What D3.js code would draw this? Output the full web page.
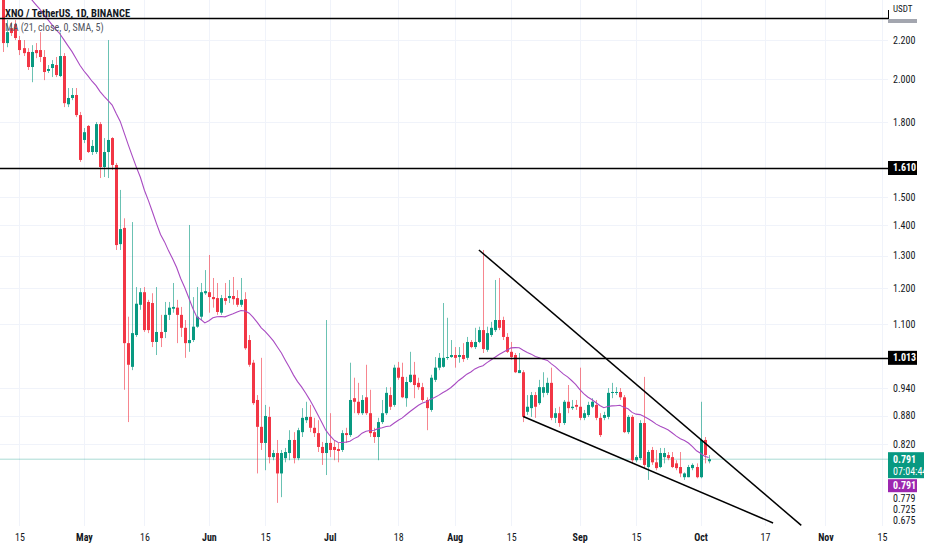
<!DOCTYPE html>
<html>
<head>
    <meta charset="utf-8">
    <title>XNO / TetherUS, 1D, BINANCE</title>
    <script src="https://cdn.jsdelivr.net/npm/d3@7/dist/d3.min.js" charset="utf-8"></script>
    <style>
        body { margin: 0; background: #fff; }
        text { font-family: "Liberation Sans Narrow", "Roboto Condensed", "Liberation Sans", sans-serif; }
    </style>
</head>
<body>
<script>
    // daily candles, first one on 11 Apr 2022
    var firstDay = '2022-04-11';
    var opens = [
        2.456, 2.184, 2.265, 2.287, 2.200, 2.157, 2.137, 2.060, 2.147, 2.147,
        2.111, 2.040, 2.055, 2.070, 2.015, 2.116, 1.881, 1.910, 1.924, 1.832,
        1.724, 1.784, 1.674, 1.674, 1.792, 1.614, 1.674, 1.732, 1.622, 1.337,
        1.391, 1.050, 0.991, 1.071, 1.153, 1.189, 1.161, 1.158, 1.053, 1.079,
        1.079, 1.125, 1.142, 1.145, 1.125, 1.090, 1.050, 1.058, 1.093, 1.120,
        1.186, 1.189, 1.175, 1.172, 1.131, 1.172, 1.172, 1.178, 1.172, 1.153,
        1.169, 1.058, 1.001, 0.914, 0.856, 0.823, 0.877, 0.795, 0.803, 0.764,
        0.793, 0.803, 0.829, 0.793, 0.845, 0.870, 0.877, 0.854, 0.843, 0.815,
        0.803, 0.823, 0.815, 0.811, 0.809, 0.843, 0.839, 0.918, 0.910, 0.885,
        0.920, 0.885, 0.845, 0.835, 0.866, 0.885, 0.925, 0.903, 0.989, 0.967,
        0.918, 0.955, 0.972, 0.953, 0.943, 0.914, 0.892, 0.960, 0.989, 0.991,
        1.013, 1.015, 1.020, 1.015, 1.020, 1.013, 1.053, 1.040, 1.053, 1.084,
        1.033, 1.071, 1.084, 1.111, 1.111, 1.066, 1.028, 1.020, 0.976, 0.978,
        0.888, 0.896, 0.925, 0.907, 0.930, 0.930, 0.953, 0.875, 0.885, 0.864,
        0.910, 0.896, 0.903, 0.899, 0.875, 0.881, 0.899, 0.903, 0.875, 0.875,
        0.877, 0.930, 0.930, 0.932, 0.920, 0.845, 0.877, 0.789, 0.793, 0.864,
        0.776, 0.809, 0.785, 0.776, 0.795, 0.799, 0.795, 0.783, 0.776, 0.757,
        0.757, 0.774, 0.776, 0.757, 0.829, 0.787
    ];
    var highs = [
        2.486, 2.310, 2.299, 2.310, 2.222, 2.200, 2.157, 2.173, 2.184, 2.243,
        2.147, 2.070, 2.095, 2.111, 2.238, 2.131, 1.957, 1.957, 1.957, 1.846,
        1.775, 1.788, 1.724, 1.801, 1.801, 1.732, 2.200, 1.736, 1.630, 1.526,
        1.424, 1.120, 1.411, 1.204, 1.201, 1.204, 1.167, 1.186, 1.204, 1.125,
        1.161, 1.161, 1.216, 1.167, 1.147, 1.111, 1.401, 1.175, 1.204, 1.216,
        1.255, 1.302, 1.231, 1.216, 1.181, 1.216, 1.225, 1.234, 1.195, 1.231,
        1.189, 1.071, 1.008, 0.925, 1.013, 0.903, 0.899, 0.809, 0.829, 0.809,
        0.813, 0.849, 0.845, 0.854, 0.896, 0.910, 0.903, 0.875, 0.870, 0.825,
        1.111, 0.885, 0.829, 0.823, 0.849, 0.854, 1.001, 0.965, 0.953, 0.925,
        0.996, 0.937, 0.854, 0.875, 0.914, 0.943, 0.943, 0.996, 1.003, 1.001,
        0.967, 1.028, 1.003, 0.965, 0.953, 0.920, 0.972, 1.015, 1.025, 1.158,
        1.117, 1.058, 1.040, 1.040, 1.050, 1.066, 1.058, 1.090, 1.093, 1.318,
        1.093, 1.106, 1.225, 1.231, 1.120, 1.076, 1.053, 1.025, 1.025, 0.983,
        0.925, 0.932, 0.932, 0.960, 0.978, 0.965, 0.989, 0.896, 0.899, 0.914,
        0.948, 0.914, 0.914, 0.989, 0.892, 0.910, 0.918, 0.914, 0.885, 0.888,
        0.941, 0.953, 0.943, 0.941, 0.925, 0.881, 0.881, 0.799, 0.870, 0.967,
        0.809, 0.815, 0.809, 0.813, 0.813, 0.805, 0.805, 0.789, 0.805, 0.766,
        0.780, 0.783, 0.783, 0.910, 0.835, 0.799
    ];
    var lows = [
        2.137, 2.162, 2.222, 2.200, 2.121, 2.116, 2.045, 1.985, 2.105, 2.085,
        1.995, 2.030, 2.010, 2.010, 2.010, 1.868, 1.868, 1.900, 1.823, 1.634,
        1.711, 1.670, 1.662, 1.666, 1.571, 1.575, 1.571, 1.602, 1.318, 1.318,
        0.937, 0.866, 0.983, 1.066, 1.139, 1.079, 1.076, 1.040, 1.020, 1.040,
        1.063, 1.111, 1.131, 1.050, 1.066, 1.013, 1.028, 1.053, 1.090, 1.111,
        1.181, 1.131, 1.145, 1.125, 1.125, 1.153, 1.158, 1.153, 1.147, 1.147,
        1.033, 0.991, 0.903, 0.764, 0.809, 0.770, 0.783, 0.789, 0.711, 0.721,
        0.785, 0.789, 0.783, 0.789, 0.835, 0.864, 0.845, 0.835, 0.805, 0.780,
        0.761, 0.795, 0.789, 0.785, 0.805, 0.823, 0.835, 0.885, 0.881, 0.881,
        0.881, 0.835, 0.823, 0.789, 0.862, 0.881, 0.892, 0.899, 0.960, 0.918,
        0.899, 0.953, 0.918, 0.937, 0.910, 0.849, 0.888, 0.955, 0.983, 0.989,
        1.008, 1.013, 0.989, 1.001, 1.003, 1.008, 1.037, 1.035, 1.050, 1.025,
        1.028, 1.066, 1.079, 1.084, 1.058, 1.025, 1.008, 0.976, 0.976, 0.866,
        0.881, 0.877, 0.875, 0.903, 0.920, 0.925, 0.870, 0.864, 0.856, 0.860,
        0.885, 0.892, 0.892, 0.870, 0.870, 0.877, 0.896, 0.870, 0.835, 0.870,
        0.872, 0.918, 0.925, 0.914, 0.843, 0.841, 0.783, 0.785, 0.789, 0.774,
        0.752, 0.780, 0.770, 0.774, 0.783, 0.789, 0.774, 0.770, 0.757, 0.752,
        0.757, 0.770, 0.755, 0.755, 0.783, 0.783
    ];
    var closes = [
        2.184, 2.243, 2.238, 2.211, 2.147, 2.131, 2.060, 2.137, 2.131, 2.111,
        2.035, 2.050, 2.075, 2.020, 2.116, 1.886, 1.910, 1.924, 1.832, 1.642,
        1.757, 1.674, 1.699, 1.792, 1.614, 1.674, 1.724, 1.622, 1.334, 1.387,
        1.050, 0.996, 1.076, 1.156, 1.189, 1.084, 1.084, 1.053, 1.079, 1.063,
        1.125, 1.145, 1.147, 1.125, 1.090, 1.050, 1.058, 1.093, 1.120, 1.189,
        1.192, 1.175, 1.169, 1.133, 1.172, 1.164, 1.178, 1.169, 1.153, 1.167,
        1.037, 0.996, 0.907, 0.856, 0.823, 0.879, 0.795, 0.803, 0.764, 0.803,
        0.805, 0.829, 0.793, 0.849, 0.875, 0.877, 0.854, 0.843, 0.815, 0.803,
        0.823, 0.809, 0.809, 0.807, 0.843, 0.839, 0.914, 0.910, 0.885, 0.914,
        0.885, 0.843, 0.835, 0.866, 0.885, 0.930, 0.899, 0.989, 0.965, 0.920,
        0.955, 0.972, 0.948, 0.943, 0.914, 0.896, 0.965, 0.989, 1.013, 1.013,
        1.015, 1.020, 1.013, 1.020, 1.010, 1.053, 1.040, 1.053, 1.084, 1.035,
        1.076, 1.090, 1.111, 1.090, 1.066, 1.028, 1.015, 0.978, 0.983, 0.877,
        0.899, 0.925, 0.899, 0.943, 0.943, 0.953, 0.875, 0.885, 0.864, 0.910,
        0.896, 0.899, 0.899, 0.875, 0.885, 0.903, 0.910, 0.875, 0.839, 0.881,
        0.930, 0.932, 0.932, 0.920, 0.845, 0.877, 0.789, 0.795, 0.864, 0.780,
        0.805, 0.785, 0.774, 0.803, 0.803, 0.793, 0.776, 0.774, 0.764, 0.764,
        0.776, 0.780, 0.757, 0.829, 0.799, 0.791
    ];
    // closes of the 20 days before the window, only used to start the MA (estimated from the MA line)
    var earlierCloses = [
        2.78, 2.74, 2.80, 2.72, 2.69, 2.71, 2.66, 2.72, 2.68, 2.70,
        2.64, 2.66, 2.60, 2.62, 2.56, 2.58, 2.56, 2.57, 2.40, 2.36
    ];
    var maLength = 21;

    // 1.6 and 1.0 sit under the level tags, so they are left out
    var priceTicks = [2.2, 2.0, 1.8, 1.5, 1.4, 1.3, 1.2, 1.1, 0.94, 0.88, 0.82];
    var dateTicks = ['2022-04-15', '2022-05-01', '2022-05-16', '2022-06-01', '2022-06-15', '2022-07-01',
        '2022-07-18', '2022-08-01', '2022-08-15', '2022-09-01', '2022-09-15', '2022-10-01',
        '2022-10-17', '2022-11-01', '2022-11-15'];

    // horizontal levels drawn on the chart
    var levelPrices = [2.32, 1.610, 1.013];
    var levelStarts = [null, null, '2022-08-07'];
    var levelTagged = [false, true, true];
    // falling wedge
    var wedgeUpper = [['2022-08-07', 1.318], ['2022-10-26', 0.673]];
    var wedgeLower = [['2022-08-18', 0.878], ['2022-10-19', 0.677]];

    var lastPrice = 0.791, lastMa = 0.791, countdown = '07:04:44';
    var drawingTags = [0.779, 0.725, 0.675];

    var width = 932, height = 550;
    var plot = {left: 0, top: 0, right: 888, bottom: 526};
    var pxPerDay = 4.03;
    var green = '#089981', red = '#f23645', maColor = '#a94bc2', ink = '#131722';

    var dayMs = 864e5;
    var parse = d3.utcParse('%Y-%m-%d');
    var xLeft = Date.UTC(2022, 3, 10, 4);
    var x = d3.scaleUtc()
            .domain([new Date(xLeft), new Date(xLeft + (plot.right - plot.left) / pxPerDay * dayMs)])
            .range([plot.left, plot.right]);
    var y = d3.scaleLog().domain([0.672, 2.426]).range([plot.bottom, plot.top]);

    var t0 = parse(firstDay).getTime();
    var candles = closes.map(function (c, i) {
        return {date: new Date(t0 + i * dayMs), o: opens[i], h: highs[i], l: lows[i], c: c};
    });
    var allCloses = earlierCloses.concat(closes);
    candles.forEach(function (d, i) {
        d.ma = d3.mean(allCloses.slice(i + earlierCloses.length - maLength + 1, i + earlierCloses.length + 1));
    });

    var svg = d3.select('body').append('svg').attr('width', width).attr('height', height)
            .style('display', 'block');
    svg.append('rect').attr('width', width).attr('height', height).attr('fill', '#fff');
    svg.append('clipPath').attr('id', 'plotClip').append('rect')
            .attr('x', plot.left).attr('y', plot.top)
            .attr('width', plot.right - plot.left).attr('height', plot.bottom - plot.top);

    // grid
    var grid = svg.append('g').attr('stroke', '#f0f3fa').attr('stroke-width', 1);
    grid.selectAll('line.h').data(priceTicks).enter().append('line')
            .attr('x1', plot.left).attr('x2', plot.right)
            .attr('y1', function (d) { return Math.round(y(d)) + 0.5; })
            .attr('y2', function (d) { return Math.round(y(d)) + 0.5; });
    grid.selectAll('line.v').data(dateTicks).enter().append('line')
            .attr('y1', plot.top).attr('y2', plot.bottom)
            .attr('x1', function (d) { return Math.round(x(parse(d))) + 0.5; })
            .attr('x2', function (d) { return Math.round(x(parse(d))) + 0.5; });

    var chart = svg.append('g').attr('clip-path', 'url(#plotClip)');

    // current price line
    chart.append('line')
            .attr('x1', plot.left).attr('x2', plot.right)
            .attr('y1', y(lastPrice)).attr('y2', y(lastPrice))
            .attr('stroke', green).attr('stroke-opacity', 0.35).attr('stroke-width', 1);

    // candles
    var candle = chart.selectAll('g.candle').data(candles).enter().append('g');
    candle.append('line')
            .attr('x1', function (d) { return Math.round(x(d.date)) + 0.5; })
            .attr('x2', function (d) { return Math.round(x(d.date)) + 0.5; })
            .attr('y1', function (d) { return y(d.h); })
            .attr('y2', function (d) { return y(d.l); })
            .attr('stroke', function (d) { return d.c >= d.o ? green : red; })
            .attr('stroke-opacity', 0.6)
            .attr('stroke-width', 1);
    candle.append('rect')
            .attr('x', function (d) { return Math.round(x(d.date)) - 1; })
            .attr('y', function (d) { return y(Math.max(d.o, d.c)); })
            .attr('width', 3)
            .attr('height', function (d) { return Math.max(1, Math.abs(y(d.o) - y(d.c))); })
            .attr('fill', function (d) { return d.c >= d.o ? green : red; });

    // MA 21
    chart.append('path').datum(candles)
            .attr('fill', 'none').attr('stroke', maColor).attr('stroke-width', 1.1)
            .attr('d', d3.line()
                    .x(function (d) { return x(d.date); })
                    .y(function (d) { return y(d.ma); }));

    // levels
    levelPrices.forEach(function (p, i) {
        chart.append('line')
                .attr('x1', levelStarts[i] ? x(parse(levelStarts[i])) : plot.left)
                .attr('x2', plot.right)
                .attr('y1', Math.round(y(p)) + 0.5).attr('y2', Math.round(y(p)) + 0.5)
                .attr('stroke', '#000').attr('stroke-width', 1.6);
    });

    // wedge lines
    var trend = d3.line()
            .x(function (d) { return x(parse(d[0])); })
            .y(function (d) { return y(d[1]); });
    [wedgeUpper, wedgeLower].forEach(function (w) {
        chart.append('path').attr('d', trend(w))
                .attr('fill', 'none').attr('stroke', '#000').attr('stroke-width', 1.5);
    });

    // time axis
    var xAxis = d3.axisBottom(x)
            .tickValues(dateTicks.map(parse))
            .tickSize(0)
            .tickPadding(0)
            .tickFormat(function (d) {
                return d.getUTCDate() === 1 ? d3.utcFormat('%b')(d) : d3.utcFormat('%-d')(d);
            });
    var xg = svg.append('g').attr('transform', 'translate(0,' + 534 + ')').call(xAxis);
    xg.select('.domain').remove();
    xg.selectAll('text')
            .attr('font-size', 10)
            .attr('fill', ink)
            .attr('font-weight', function (d) { return d.getUTCDate() === 1 ? 700 : 400; })
            .style('font-family', '"Liberation Sans Narrow", "Roboto Condensed", sans-serif');

    // price axis
    var yAxis = d3.axisRight(y)
            .tickValues(priceTicks)
            .tickSize(0)
            .tickPadding(5)
            .tickFormat(d3.format('.3f'));
    var yg = svg.append('g').attr('transform', 'translate(' + plot.right + ',0)').call(yAxis);
    yg.select('.domain').remove();
    yg.selectAll('text')
            .attr('font-size', 10)
            .attr('fill', ink)
            .style('font-family', '"Liberation Sans Narrow", "Roboto Condensed", sans-serif');

    // currency header and hidden tag of the top level
    svg.append('text').attr('x', plot.right + 5).attr('y', 12)
            .attr('font-size', 9).attr('fill', ink).text('USDT');
    svg.append('line')
            .attr('x1', plot.right + 0.5).attr('x2', plot.right + 0.5)
            .attr('y1', 10).attr('y2', Math.round(y(levelPrices[0])) + 1)
            .attr('stroke', '#000').attr('stroke-width', 1);
    svg.append('rect').attr('x', plot.right).attr('y', 19).attr('width', 29).attr('height', 4)
            .attr('fill', '#a3a6af');

    // level tags
    levelPrices.forEach(function (p, i) {
        if (!levelTagged[i]) return;
        var cy = y(p);
        svg.append('rect').attr('x', plot.right).attr('y', cy - 7).attr('width', 29).attr('height', 14)
                .attr('fill', '#000');
        svg.append('text').attr('x', plot.right + 5).attr('y', cy).attr('dy', '0.35em')
                .attr('font-size', 10).attr('font-weight', 700).attr('fill', '#fff')
                .text(d3.format('.3f')(p));
    });

    // last price tag with countdown
    var lp = y(lastPrice);
    svg.append('rect').attr('x', plot.right).attr('y', lp - 7).attr('width', 36).attr('height', 26)
            .attr('fill', green);
    svg.append('text').attr('x', plot.right + 5).attr('y', lp).attr('dy', '0.35em')
            .attr('font-size', 10).attr('font-weight', 700).attr('fill', '#fff')
            .text(d3.format('.3f')(lastPrice));
    svg.append('text').attr('x', plot.right + 5).attr('y', lp + 12).attr('dy', '0.35em')
            .attr('font-size', 10).attr('fill', '#fff').text(countdown);

    // MA tag, pushed under the price tag
    var maTop = lp + 20;
    svg.append('rect').attr('x', plot.right).attr('y', maTop).attr('width', 29).attr('height', 13)
            .attr('fill', '#9c27b0');
    svg.append('text').attr('x', plot.right + 5).attr('y', maTop + 6.5).attr('dy', '0.35em')
            .attr('font-size', 10).attr('font-weight', 700).attr('fill', '#fff')
            .text(d3.format('.3f')(lastMa));

    // drawing tags stacked below
    var prevBottom = maTop + 13;
    drawingTags.forEach(function (v) {
        var cy = Math.min(Math.max(y(v), prevBottom + 6), plot.bottom - 6);
        svg.append('text').attr('x', plot.right + 5).attr('y', cy).attr('dy', '0.35em')
                .attr('font-size', 10).attr('fill', ink).text(d3.format('.3f')(v));
        prevBottom = cy + 5.5;
    });

    // legend
    svg.append('text').attr('x', 5).attr('y', 17)
            .attr('font-size', 10.5).attr('font-weight', 700).attr('fill', ink)
            .text('XNO / TetherUS, 1D, BINANCE');
    svg.append('text').attr('x', 5).attr('y', 31)
            .attr('font-size', 10).attr('fill', '#50535e')
            .text('MA (21, close, 0, SMA, 5)');
</script>
</body>
</html>
